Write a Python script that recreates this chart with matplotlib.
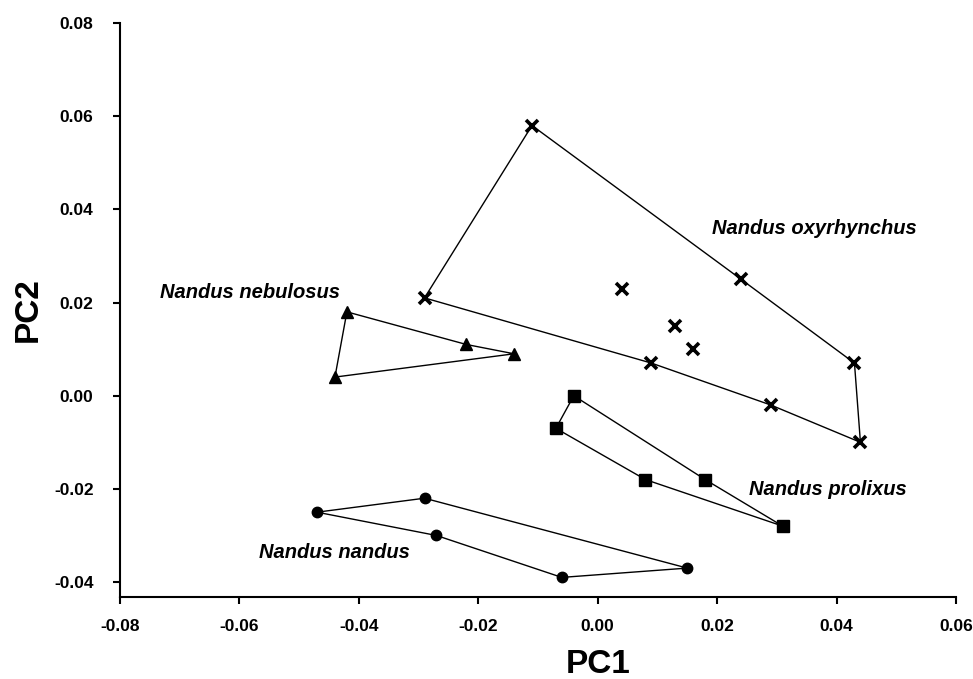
import matplotlib
matplotlib.use("Agg")
from matplotlib import pyplot as plt

plt.rcParams['font.family'] = ['Liberation Sans', 'DejaVu Sans']

# PC scores
oxy_x = [-0.011, -0.029, 0.024, 0.043, 0.044, 0.029, 0.009, 0.004, 0.013, 0.016]
oxy_y = [0.058, 0.021, 0.025, 0.007, -0.010, -0.002, 0.007, 0.023, 0.015, 0.010]
oxy_hull = [0, 2, 3, 4, 5, 6, 1, 0]

neb_x = [-0.042, -0.022, -0.014, -0.044]
neb_y = [0.018, 0.011, 0.009, 0.004]
neb_hull = [0, 1, 2, 3, 0]

pro_x = [-0.004, -0.007, 0.008, 0.018, 0.031]
pro_y = [0.000, -0.007, -0.018, -0.018, -0.028]
pro_hull = [0, 3, 4, 2, 1, 0]

nan_x = [-0.047, -0.029, -0.027, -0.006, 0.015]
nan_y = [-0.025, -0.022, -0.030, -0.039, -0.037]
nan_hull = [0, 1, 4, 3, 2, 0]

xticks = [-0.08, -0.06, -0.04, -0.02, 0.00, 0.02, 0.04, 0.06]
yticks = [-0.04, -0.02, 0.00, 0.02, 0.04, 0.06, 0.08]

groups = [
    ("Nandus oxyrhynchus", oxy_x, oxy_y, oxy_hull, dict(marker='x', ms=8, mew=2.6), (0.0191, 0.0358)),
    ("Nandus nebulosus", neb_x, neb_y, neb_hull, dict(marker='^', ms=8.5), (-0.0733, 0.0221)),
    ("Nandus prolixus", pro_x, pro_y, pro_hull, dict(marker='s', ms=8.5), (0.0254, -0.0202)),
    ("Nandus nandus", nan_x, nan_y, nan_hull, dict(marker='o', ms=7.5), (-0.0567, -0.0337)),
]

fig = plt.figure(figsize=(9.73, 6.79), dpi=100)
ax = fig.add_axes([0.1233, 0.1208, 0.8592, 0.8453])

for name, xs, ys, hull, mk, pos in groups:
    hx = [xs[i] for i in hull]
    hy = [ys[i] for i in hull]
    ax.plot(hx, hy, color='black', lw=1.0, zorder=2)
    ax.plot(xs, ys, ls='none', color='black', zorder=3, **mk)
    ax.text(pos[0], pos[1], name, fontsize=14.5, fontweight='bold',
            fontstyle='italic', ha='left', va='center')

ax.set_xlim(-0.08, 0.06)
ax.set_ylim(-0.0432, 0.08)
ax.set_xticks(xticks)
ax.set_yticks(yticks)
ax.set_xticklabels(['%.2f' % v for v in xticks], fontsize=12.5, fontweight='bold')
ax.set_yticklabels(['%.2f' % v for v in yticks], fontsize=12.5, fontweight='bold')
ax.tick_params(direction='out', length=5, width=1.5)
ax.tick_params(axis='x', pad=11)
ax.tick_params(axis='y', pad=14)
ax.spines['top'].set_visible(False)
ax.spines['right'].set_visible(False)
ax.spines['left'].set_linewidth(1.5)
ax.spines['bottom'].set_linewidth(1.5)
ax.set_xlabel('PC1', fontsize=24, fontweight='bold', labelpad=8)
ax.xaxis.set_label_coords(0.5715, -0.09)
ax.set_ylabel('PC2', fontsize=24, fontweight='bold', labelpad=7)

fig.savefig('out.png', dpi=100)
